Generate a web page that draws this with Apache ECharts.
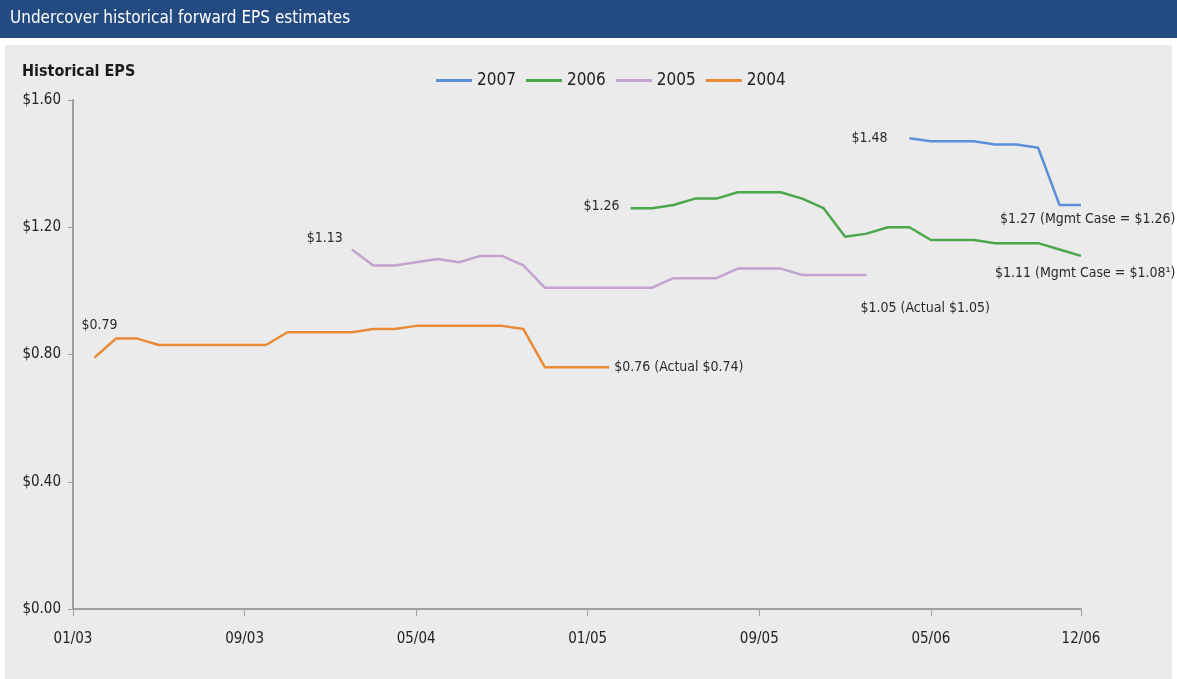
<!DOCTYPE html>
<html>
<head>
<meta charset="utf-8">
<title>Undercover historical forward EPS estimates</title>
<script src="https://cdn.jsdelivr.net/npm/echarts@6/dist/echarts.min.js"></script>
<style>
  html, body { margin: 0; padding: 0; background: #ffffff; }
  #chart { width: 1177px; height: 679px; }
</style>
</head>
<body>
<div id="chart"></div>
<script>
// Monthly category axis, Jan 2003 through Dec 2006
const months = [];
for (let y = 3; y <= 6; y++) {
  for (let m = 1; m <= 12; m++) {
    months.push(String(m).padStart(2, '0') + '/0' + y);
  }
}

// Forward EPS estimate histories, one per fiscal year (first month, then monthly values)
const start2007 = '04/06';
const eps2007 = [1.48, 1.47, 1.47, 1.47, 1.46, 1.46, 1.45, 1.27, 1.27];
const start2006 = '03/05';
const eps2006 = [1.26, 1.26, 1.27, 1.29, 1.29, 1.31, 1.31, 1.31, 1.29, 1.26, 1.17, 1.18,
                 1.20, 1.20, 1.16, 1.16, 1.16, 1.15, 1.15, 1.15, 1.13, 1.11];
const start2005 = '02/04';
const eps2005 = [1.13, 1.08, 1.08, 1.09, 1.10, 1.09, 1.11, 1.11, 1.08, 1.01, 1.01, 1.01,
                 1.01, 1.01, 1.01, 1.04, 1.04, 1.04, 1.07, 1.07, 1.07, 1.05, 1.05, 1.05, 1.05];
const start2004 = '02/03';
const eps2004 = [0.79, 0.85, 0.85, 0.83, 0.83, 0.83, 0.83, 0.83, 0.83, 0.87, 0.87, 0.87,
                 0.87, 0.88, 0.88, 0.89, 0.89, 0.89, 0.89, 0.89, 0.88, 0.76, 0.76, 0.76, 0.76];

// Notes appended to each series' final estimate
const endNote2007 = '(Mgmt Case = $1.26)';
const endNote2006 = '(Mgmt Case = $1.08\u00B9)';
const endNote2005 = '(Actual $1.05)';
const endNote2004 = '(Actual $0.74)';

const yTicks = [0, 0.4, 0.8, 1.2, 1.6];
const xLabelIdx = [0, 8, 16, 24, 32, 40, 47];

const FONT = '"DejaVu Sans Condensed", "DejaVu Sans", "Liberation Sans", sans-serif';
const money = v => '$' + v.toFixed(2);

// Label placement relative to the first / last point of each line
const labelStyle = {
  '2007': { first: { pos: [-22, 0], align: 'right' }, last: { pos: [-81, 14], align: 'left' } },
  '2006': { first: { pos: [-11, -2], align: 'right' }, last: { pos: [-86, 17], align: 'left' } },
  '2005': { first: { pos: [-9, -11], align: 'right' }, last: { pos: [-6, 33], align: 'left' } },
  '2004': { first: { pos: [5, -32], align: 'center' }, last: { pos: [5, 0], align: 'left' } }
};

function buildData(name, start, values, note) {
  const s = months.indexOf(start);
  const out = months.map(() => null);
  values.forEach((v, i) => {
    const item = { value: v };
    const ls = labelStyle[name];
    if (i === 0 || i === values.length - 1) {
      const cfg = i === 0 ? ls.first : ls.last;
      item.label = {
        show: true,
        position: cfg.pos,
        align: cfg.align,
        verticalAlign: 'middle',
        formatter: i === 0 ? money(v) : money(v) + ' ' + note
      };
    }
    out[s + i] = item;
  });
  return out;
}

const seriesDefs = [
  { name: '2007', start: start2007, values: eps2007, note: endNote2007, color: '#5b8fd8' },
  { name: '2006', start: start2006, values: eps2006, note: endNote2006, color: '#4ca64c' },
  { name: '2005', start: start2005, values: eps2005, note: endNote2005, color: '#c3a3cf' },
  { name: '2004', start: start2004, values: eps2004, note: endNote2004, color: '#e98a38' }
];

const chart = echarts.init(document.getElementById('chart'), null, { renderer: 'canvas' });

chart.setOption({
  backgroundColor: '#ffffff',
  animation: false,
  textStyle: { fontFamily: FONT },
  graphic: [
    { type: 'rect', z: -10, shape: { x: 0, y: 0, width: 1177, height: 38 }, style: { fill: '#244b81' } },
    { type: 'rect', z: -10, shape: { x: 5, y: 45, width: 1167, height: 634 }, style: { fill: '#ebebeb' } },
    { type: 'text', left: 10, top: 10, style: { text: 'Undercover historical forward EPS estimates', fill: '#ffffff', font: '17px ' + FONT } },
    { type: 'text', left: 22, top: 64, style: { text: 'Historical EPS', fill: '#1a1a1a', font: 'bold 16px ' + FONT } }
  ],
  legend: {
    left: 431,
    top: 67,
    icon: 'rect',
    itemWidth: 36,
    itemHeight: 3,
    itemGap: 10,
    textStyle: { fontSize: 17, color: '#222', fontFamily: FONT },
    data: seriesDefs.map(d => d.name)
  },
  grid: { left: 73, right: 96, top: 100, bottom: 70, containLabel: false },
  xAxis: {
    type: 'category',
    data: months,
    boundaryGap: false,
    axisLine: { lineStyle: { color: '#a0a0a0', width: 2 } },
    axisTick: {
      show: true,
      length: 7,
      lineStyle: { color: '#a0a0a0' },
      interval: (idx) => xLabelIdx.includes(idx)
    },
    axisLabel: {
      interval: (idx) => xLabelIdx.includes(idx),
      margin: 23,
      fontSize: 15,
      color: '#222',
      fontFamily: FONT
    },
    splitLine: { show: false }
  },
  yAxis: {
    type: 'value',
    min: yTicks[0],
    max: yTicks[yTicks.length - 1],
    interval: 0.4,
    axisLine: { show: true, lineStyle: { color: '#a0a0a0', width: 2 } },
    axisTick: { show: true, length: 5, lineStyle: { color: '#a0a0a0' } },
    axisLabel: { formatter: v => money(v), margin: 12, fontSize: 15, color: '#222', fontFamily: FONT },
    splitLine: { show: false }
  },
  series: seriesDefs.map(d => ({
    name: d.name,
    type: 'line',
    data: buildData(d.name, d.start, d.values, d.note),
    color: d.color,
    lineStyle: { color: d.color, width: 2.5 },
    symbol: 'circle',
    symbolSize: 0,
    showSymbol: true,
    showAllSymbol: true,
    connectNulls: false,
    label: { color: '#2a2a2a', fontSize: 14, fontFamily: FONT },
    emphasis: { disabled: true }
  }))
});
</script>
</body>
</html>
